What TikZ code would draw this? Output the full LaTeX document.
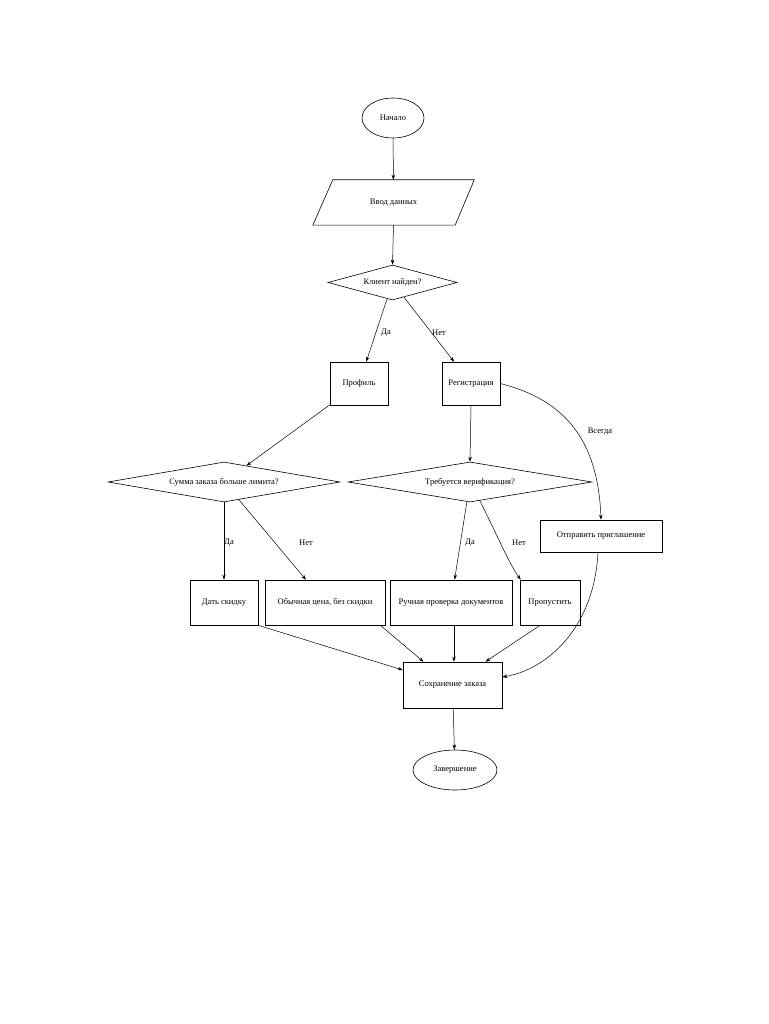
\documentclass[tikz,border=0pt]{standalone}
\usepackage{fontspec}
\setmainfont{Liberation Serif}
\usetikzlibrary{shapes.geometric,arrows.meta,calc}
\begin{document}
\begin{tikzpicture}[x=1pt,y=-1pt,
  every node/.style={font=\fontsize{8.5}{10}\selectfont, inner sep=1pt},
  box/.style={draw, rectangle, line width=0.6pt},
  oval/.style={draw, ellipse, line width=0.6pt, inner sep=0pt},
  dia/.style={draw, diamond, line width=0.6pt, inner sep=0pt},
  lbl/.style={inner sep=0.5pt},
  conn/.style={line width=0.5pt, -{Stealth[length=5pt,width=3.5pt]}}
]
\useasboundingbox (0,0) rectangle (768,1024);

% nodes
\node[oval, minimum width=62, minimum height=40] (st) at (393,118) {Начало};
\node[minimum width=161, minimum height=45, inner sep=0pt] (in) at (393.5,202.5) {Ввод данных};
\draw[line width=0.6pt] ($(in.north west)+(20,0)$) -- (in.north east) -- ($(in.south east)+(-19,0)$) -- (in.south west) -- cycle;
\node[dia, shape aspect=3.7, minimum width=129, minimum height=35] (d1) at (392.5,282.5) {Клиент найден?};
\node[box, minimum width=58, minimum height=43] (A) at (359,383.5) {Профиль};
\node[box, minimum width=58, minimum height=43] (B) at (471,383.5) {Регистрация};
\node[dia, shape aspect=5.8, minimum width=232, minimum height=40] (d2) at (224,482) {Сумма заказа больше лимита?};
\node[dia, shape aspect=6.1, minimum width=244, minimum height=40] (d3) at (470,482) {Требуется верификация?};
\node[box, minimum width=68, minimum height=45] (C) at (224,602.5) {Дать скидку};
\node[box, minimum width=120, minimum height=45] (D) at (325,602.5) {Обычная цена, без скидки};
\node[box, minimum width=122, minimum height=45] (E) at (451,602.5) {Ручная проверка документов};
\node[box, minimum width=60, minimum height=45] (F) at (550,602.5) {Пропустить};
\node[box, minimum width=122, minimum height=32] (G) at (601,536) {Отправить приглашение};
\node[box, minimum width=99, minimum height=46] (M) at (452.5,685) {Сохранение заказа};
\node[oval, minimum width=84, minimum height=40] (en) at (455,770) {Завершение};

% edge labels
\node[lbl] (l1) at (386,333) {Да};
\node[lbl] (l2) at (439,333) {Нет};
\node[lbl] (l3) at (229,543) {Да};
\node[lbl] (l4) at (306,543) {Нет};
\node[lbl] (l5) at (470,543) {Да};
\node[lbl] (l6) at (519,543) {Нет};
\node[lbl] (l7) at (600,432) {Всегда};

% connectors
\draw[conn] (st) -- (in);
\draw[conn] (in.south) -- (d1.north);
\draw[conn] (d1) -- (A);
\draw[conn] (d1) -- (B);
\draw[conn] (A) -- (d2);
\draw[conn] (B.south) -- (d3.north);
\draw[conn] (B.east) .. controls (565,400) and (598,440) .. (G.north);
\draw[conn] (d2.south) -- (C.north);
\draw[conn] (d2) -- (D);
\draw[conn] (d3) -- (E);
\draw[conn] (d3) .. controls (495,530) and (508,562) .. ($(F.north west)+(1,0)$);
\draw[conn] (C.south east) -- ($(M.west)+(0,-15)$);
\draw[conn] ($(D.south east)+(-5,0)$) -- ($(M.north)+(-29,0)$);
\draw[conn] ($(E.south)+(3,0)$) -- ($(M.north)+(1.5,0)$);
\draw[conn] ($(F.south)+(-10,0)$) -- ($(M.north)+(33,0)$);
\draw[conn] ($(G.south)+(-3,0)$) .. controls (594,630) and (545,670) .. ($(M.east)+(0,-8)$);
\draw[conn] (M) -- (en);
\end{tikzpicture}
\end{document}
